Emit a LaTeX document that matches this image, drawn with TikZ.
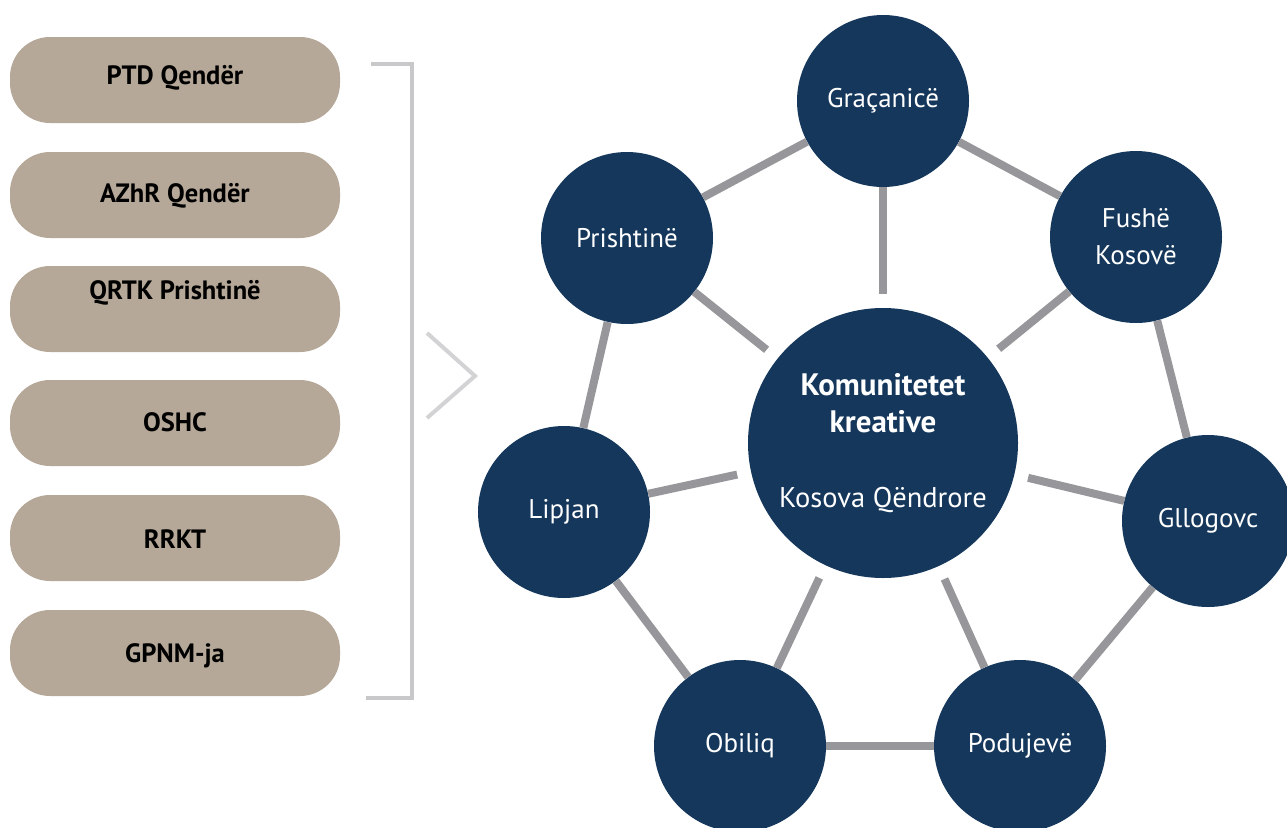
\documentclass[tikz,border=0pt]{standalone}
\usepackage{fontspec}
\setmainfont{PT Sans}
\definecolor{navy}{HTML}{14375B}
\definecolor{beige}{HTML}{B5A898}
\definecolor{linkgray}{HTML}{97979B}
\definecolor{brk}{HTML}{C8C8CA}
\begin{document}
\begin{tikzpicture}[x=1pt,y=-1pt,
  box/.style={fill=beige, rounded corners=40pt, minimum width=330pt, minimum height=86pt, inner sep=0pt},
  boxtext/.style={inner sep=0pt, font=\fontsize{26.5}{30}\selectfont\bfseries, text=black},
  town/.style={circle, fill=navy, minimum size=172pt, inner sep=0pt, text=white, align=center, font=\fontsize{27}{37}\selectfont},
  hub/.style={circle, fill=navy, minimum size=270pt, inner sep=0pt},
  hubtext/.style={inner sep=0pt, text=white, anchor=base},
  link/.style={draw=linkgray, line width=8pt},
  spoke/.style={link, shorten <=14pt},
  bracketline/.style={draw=brk, line width=4pt},
  chev/.style={draw=brk!80, line width=4pt}]
\useasboundingbox (0,0) rectangle (1287,827);

% left boxes
\node[box] (b1) at (175,80) {};
\node[box] (b2) at (175,195) {};
\node[box] (b3) at (175,309) {};
\node[box] (b4) at (175,423) {};
\node[box] (b5) at (175,538) {};
\node[box] (b6) at (175,653) {};
\node[boxtext] (t1) at (175,78) {PTD Qendër};
\node[boxtext] (t2) at (175,196) {AZhR Qendër};
\node[boxtext] (t3) at (175,293) {QRTK Prishtinë};
\node[boxtext] (t4) at (175,422) {OSHC};
\node[boxtext] (t5) at (175,539) {RRKT};
\node[boxtext] (t6) at (175,656) {GPNM-ja};

% bracket and chevron
\coordinate (br1) at (371,64);
\coordinate (br2) at (412,64);
\coordinate (br3) at (412,698);
\coordinate (br4) at (366,698);
\draw[bracketline] (br1) -- (br2) -- (br3) -- (br4);
\coordinate (ch1) at (427,333);
\coordinate (ch2) at (475,376);
\coordinate (ch3) at (427,418);
\draw[chev] (ch1) -- (ch2) -- (ch3);

% network
\node[hub] (c) at (883,443) {};
\node[town] (gra) at (883,101) {Graçanicë};
\node[town] (pri) at (627,238) {Prishtinë};
\node[town] (fus) at (1136,237) {Fushë\\Kosovë};
\node[town] (lip) at (564,512) {Lipjan};
\node[town] (gll) at (1208,521) {Gllogovc};
\node[town] (obi) at (740,746) {Obiliq};
\node[town] (pod) at (1020,746) {Podujevë};

\draw[link] (gra) -- (pri);
\draw[link] (gra) -- (fus);
\draw[link] (fus) -- (gll);
\draw[link] (gll) -- (pod);
\draw[link] (pod) -- (obi);
\draw[link] (obi) -- (lip);
\draw[link] (lip) -- (pri);
\foreach \t in {gra,pri,fus,lip,gll,obi,pod}
  \draw[spoke] (c) -- (\t);

\node[hubtext, font=\fontsize{31}{34}\selectfont\bfseries] (k1) at (883,395) {Komunitetet};
\node[hubtext, font=\fontsize{31}{34}\selectfont\bfseries] (k2) at (883,432) {kreative};
\node[hubtext, font=\fontsize{28.5}{32}\selectfont] (k3) at (883,507) {Kosova Qëndrore};
\end{tikzpicture}
\end{document}
